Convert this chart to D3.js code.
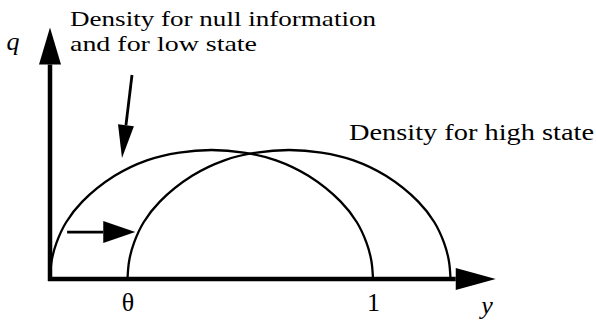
<!DOCTYPE html>
<meta charset="utf-8">
<style>
  body { margin: 0; background: #fff; }
</style>
<body>
<script src="https://d3js.org/d3.v7.min.js"></script>
<script>
var width = 596, height = 321;
var serif = "Liberation Serif";

// density for null information / low state (support 0..1)
var nullX = [0, 0.005, 0.02, 0.05, 0.1, 0.2, 0.3, 0.4, 0.5, 0.6, 0.7, 0.8, 0.9, 0.95, 0.98, 0.995, 1];
var nullQ = [0, 0.14, 0.28, 0.44, 0.6, 0.8, 0.92, 0.98, 1, 0.98, 0.92, 0.8, 0.6, 0.44, 0.28, 0.14, 0];
// density for high state (shifted right by theta)
var highX = [0.24, 0.245, 0.26, 0.29, 0.34, 0.44, 0.54, 0.64, 0.74, 0.84, 0.94, 1.04, 1.14, 1.19, 1.22, 1.235, 1.24];
var highQ = [0, 0.14, 0.28, 0.44, 0.6, 0.8, 0.92, 0.98, 1, 0.98, 0.92, 0.8, 0.6, 0.44, 0.28, 0.14, 0];

var theta = 0.24;
var tickVals = [theta, 1];
var tickText = ["\u03b8", "1"];
var xAxisEnd = 1.38, yAxisEnd = 1.95;

var x = d3.scaleLinear().domain([0, 1]).range([50, 373]);
var y = d3.scaleLinear().domain([0, 1]).range([279, 150]);

var svg = d3.select("body").append("svg")
  .attr("width", width)
  .attr("height", height);

var line = d3.line()
  .x(d => x(d[0]))
  .y(d => y(d[1]))
  .curve(d3.curveCatmullRom);

svg.append("path")
  .attr("d", line(d3.zip(nullX, nullQ)))
  .attr("fill", "none").attr("stroke", "#000").attr("stroke-width", 2.3);

svg.append("path")
  .attr("d", line(d3.zip(highX, highQ)))
  .attr("fill", "none").attr("stroke", "#000").attr("stroke-width", 2.3);

// arrow helper: shaft + filled head
function arrow(x1, y1, x2, y2, len, half, sw) {
  var a = Math.atan2(y2 - y1, x2 - x1);
  var bx = x2 - len * Math.cos(a), by = y2 - len * Math.sin(a);
  svg.append("line")
    .attr("x1", x1).attr("y1", y1).attr("x2", bx).attr("y2", by)
    .attr("stroke", "#000").attr("stroke-width", sw);
  var px = -Math.sin(a) * half, py = Math.cos(a) * half;
  svg.append("path")
    .attr("d", d3.line()([[x2, y2], [bx + px, by + py], [bx - px, by - py]]) + "Z")
    .attr("fill", "#000");
}

// axes
arrow(x(0) - 2, y(0), x(xAxisEnd), y(0), 40, 11, 4.5);
arrow(x(0), y(0) + 2, x(0), y(yAxisEnd), 37, 11, 4.5);

// x ticks (labels only)
var xAxis = d3.axisBottom(x)
  .tickValues(tickVals)
  .tickSize(0)
  .tickPadding(14)
  .tickFormat((d, i) => tickText[i]);

var gx = svg.append("g")
  .attr("transform", "translate(0," + y(0) + ")")
  .call(xAxis)
  .attr("font-family", serif)
  .attr("font-size", 26);
gx.select(".domain").remove();

function label(px, py, size, str, len, italic) {
  var t = svg.append("text")
    .attr("x", px).attr("y", py)
    .attr("font-family", serif)
    .attr("font-size", size)
    .attr("fill", "#000")
    .text(str);
  if (len) t.attr("textLength", len).attr("lengthAdjust", "spacingAndGlyphs");
  if (italic) t.attr("font-style", "italic").attr("text-anchor", "middle");
  return t;
}

// axis names
label(487, 314, 26, "y", 0, true);
label(13, 50, 26, "q", 0, true);

// shift arrow
arrow(x(0.053), y(0.364), x(0.264), y(0.364), 32, 11, 2.8);
// pointer to null density
arrow(132, 75, 122, 158, 33, 8, 2.8);

// labels
label(70, 26, 22, "Density for null information", 306);
label(70, 51, 22, "and for low state", 187);
label(349, 140, 24, "Density for high state", 245);
</script>
</body>
